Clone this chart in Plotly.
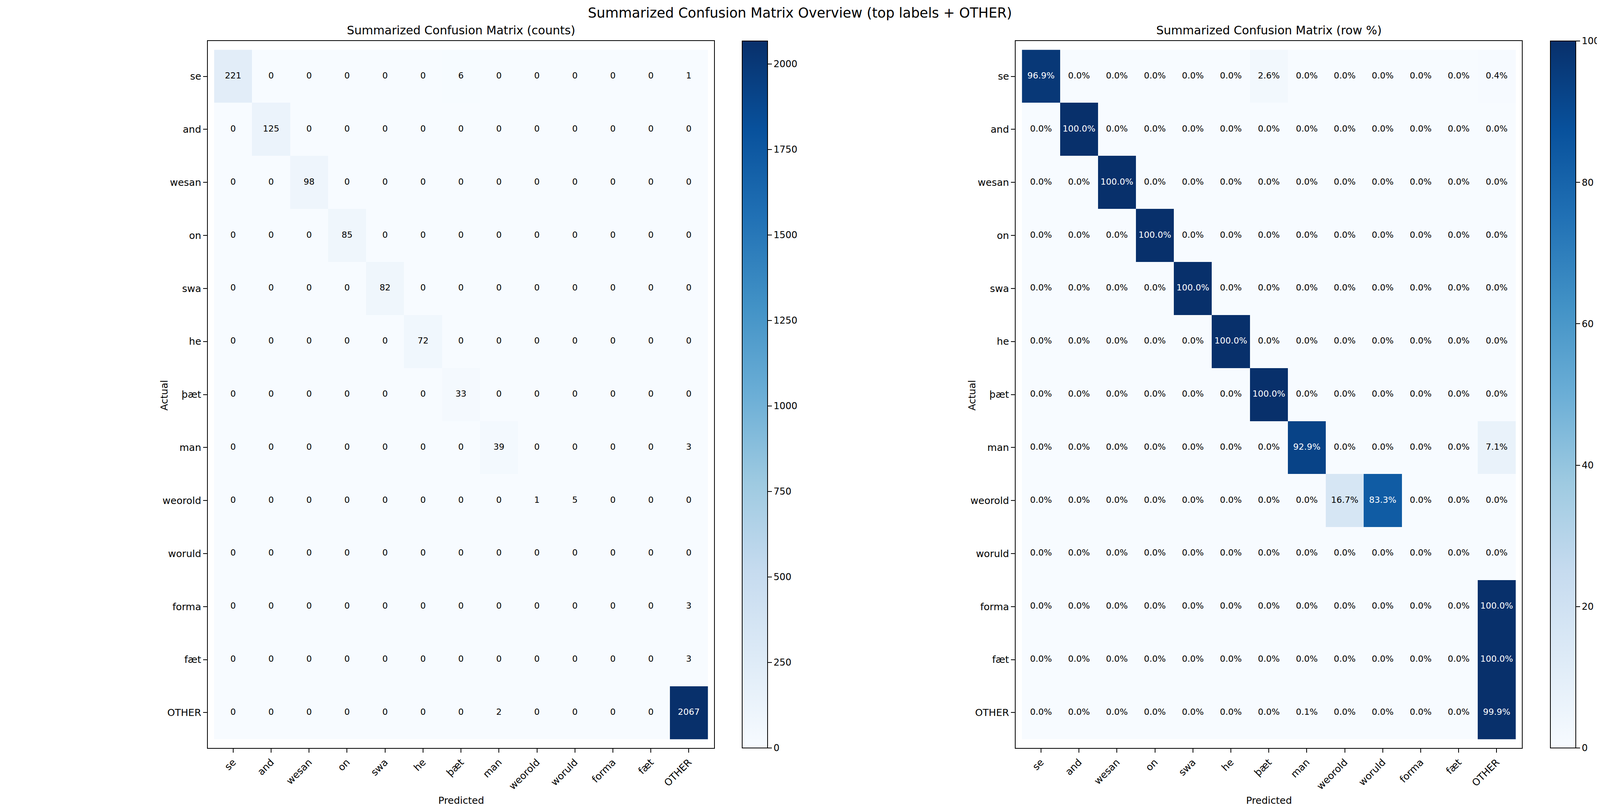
import numpy as np
import plotly.graph_objects as go
from plotly.colors import sequential

# labels (rows = actual, columns = predicted)
labels = ["se", "and", "wesan", "on", "swa", "he", "þæt", "man",
          "weorold", "woruld", "forma", "fæt", "OTHER"]

# counts, one list per actual label
row_se = [221, 0, 0, 0, 0, 0, 6, 0, 0, 0, 0, 0, 1]
row_and = [0, 125, 0, 0, 0, 0, 0, 0, 0, 0, 0, 0, 0]
row_wesan = [0, 0, 98, 0, 0, 0, 0, 0, 0, 0, 0, 0, 0]
row_on = [0, 0, 0, 85, 0, 0, 0, 0, 0, 0, 0, 0, 0]
row_swa = [0, 0, 0, 0, 82, 0, 0, 0, 0, 0, 0, 0, 0]
row_he = [0, 0, 0, 0, 0, 72, 0, 0, 0, 0, 0, 0, 0]
row_thaet = [0, 0, 0, 0, 0, 0, 33, 0, 0, 0, 0, 0, 0]
row_man = [0, 0, 0, 0, 0, 0, 0, 39, 0, 0, 0, 0, 3]
row_weorold = [0, 0, 0, 0, 0, 0, 0, 0, 1, 5, 0, 0, 0]
row_woruld = [0, 0, 0, 0, 0, 0, 0, 0, 0, 0, 0, 0, 0]
row_forma = [0, 0, 0, 0, 0, 0, 0, 0, 0, 0, 0, 0, 3]
row_faet = [0, 0, 0, 0, 0, 0, 0, 0, 0, 0, 0, 0, 3]
row_other = [0, 0, 0, 0, 0, 0, 0, 2, 0, 0, 0, 0, 2067]

counts = np.array([row_se, row_and, row_wesan, row_on, row_swa, row_he,
                   row_thaet, row_man, row_weorold, row_woruld, row_forma,
                   row_faet, row_other], dtype=float)

# row-normalised percentages (empty rows stay at 0)
row_sums = counts.sum(axis=1, keepdims=True)
pct = np.divide(counts * 100, row_sums, out=np.zeros_like(counts),
                where=row_sums > 0)

# the browser window is 4096 wide, the reference 5720: squeeze x only.
# page body has an 8px margin, so the figure is 8px smaller each way.
REF_W = 5720
PAGE_W, PAGE_H = 4096, 2080
BODY = 8
FW, FH = PAGE_W - BODY, PAGE_H - BODY
SX = PAGE_W / REF_W
FONT = "DejaVu Sans"
blues = sequential.Blues

# reference pixel layout of the panels
x0_left, x1_left = 743, 2553
shift = 2888
top, bottom = 105, 1916
cb_left = 2654
cb_thick = 91


def fx(p):
    return (p * SX - BODY) / FW


def fy(p):
    return 1 - (p - BODY) / FH


fig = go.Figure()


def add_panel(z, text, text_color, xa, ya, cb_x, cb_ticks, cb_max):
    fig.add_trace(go.Heatmap(
        z=z, x=labels, y=labels, xaxis=xa, yaxis=ya,
        colorscale=blues, zmin=0, zmax=cb_max,
        hoverinfo="skip",
        colorbar=dict(
            x=cb_x, xanchor="left", xref="paper",
            y=fy((top + bottom) / 2), yanchor="middle", yref="paper",
            len=(bottom - top) / FH, lenmode="fraction",
            thickness=round(cb_thick * SX), thicknessmode="pixels",
            xpad=0, ypad=0,
            outlinewidth=2, outlinecolor="black",
            tickvals=cb_ticks, ticks="outside", ticklen=10, tickwidth=2,
            tickcolor="black",
            tickfont=dict(family=FONT, size=24, color="black"),
        ),
    ))
    xs, ys = np.meshgrid(labels, labels)
    fig.add_trace(go.Scatter(
        x=xs.ravel(), y=ys.ravel(), xaxis=xa, yaxis=ya,
        mode="text", text=text, hoverinfo="skip", showlegend=False,
        textfont=dict(family=FONT, size=22, color=text_color),
    ))


# counts panel
cnt_text = [str(int(v)) for v in counts.ravel()]
cnt_color = ["white" if v > counts.max() / 2 else "black" for v in counts.ravel()]
add_panel(counts, cnt_text, cnt_color, "x", "y", fx(cb_left),
          list(range(0, 2001, 250)), counts.max())

# row % panel
pct_text = [f"{v:.1f}%" for v in pct.ravel()]
pct_color = ["white" if v > 50 else "black" for v in pct.ravel()]
add_panel(pct, pct_text, pct_color, "x2", "y2", fx(cb_left + shift),
          [0, 20, 40, 60, 80, 100], 100)

axis_common = dict(
    showline=True, linecolor="black", linewidth=2, mirror=True,
    ticks="outside", ticklen=10, tickwidth=2, tickcolor="black",
    tickfont=dict(family=FONT, size=25, color="black"),
    showgrid=False, zeroline=False, type="category",
)

ydom = [fy(bottom), fy(top)]
fig.update_layout(
    width=FW, height=FH,
    margin=dict(l=0, r=0, t=0, b=0),
    paper_bgcolor="white", plot_bgcolor="white",
    showlegend=False,
    xaxis=dict(domain=[fx(x0_left), fx(x1_left)], anchor="y",
               tickangle=-45, **axis_common),
    yaxis=dict(domain=ydom, anchor="x", autorange="reversed",
               **axis_common),
    xaxis2=dict(domain=[fx(x0_left + shift), fx(x1_left + shift)],
                anchor="y2", tickangle=-45, **axis_common),
    yaxis2=dict(domain=ydom, anchor="x2", autorange="reversed",
                **axis_common),
)

# titles and axis labels
mid_left = (x0_left + x1_left) / 2
mid_right = mid_left + shift
notes = [
    ("Summarized Confusion Matrix Overview (top labels + OTHER)", REF_W / 2, 33, 35, 0),
    ("Summarized Confusion Matrix (counts)", mid_left, 78, 30, 0),
    ("Summarized Confusion Matrix (row %)", mid_right, 78, 30, 0),
    ("Predicted", mid_left, 2050, 25, 0),
    ("Predicted", mid_right, 2050, 25, 0),
    ("Actual", 586, 1013, 25, -90),
    ("Actual", 586 + shift, 1013, 25, -90),
]
for txt, x, y, size, ang in notes:
    fig.add_annotation(text=txt, x=fx(x), y=fy(y), xref="paper",
                       yref="paper", xanchor="center", yanchor="middle",
                       showarrow=False, textangle=ang,
                       font=dict(family=FONT, size=size, color="black"))

fig.write_html("out.html")
